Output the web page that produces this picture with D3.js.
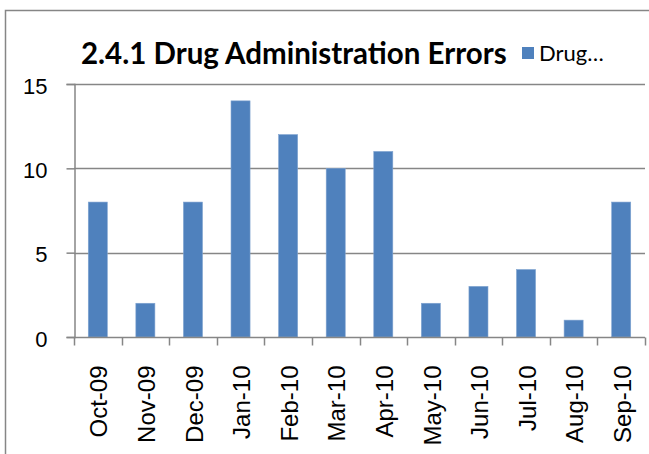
<!DOCTYPE html>
<html>
<head>
<meta charset="utf-8">
<script src="https://cdn.jsdelivr.net/npm/d3@7"></script>
<style>
  body { margin: 0; background: #fff; }
  svg text { font-family: Lato, "Liberation Sans", sans-serif; fill: #000; }
  svg .axis-label { font-family: "Liberation Sans", Arial, sans-serif; }
</style>
</head>
<body>
<svg id="chart" width="649" height="454"></svg>
<script>
// chart data
var months = ["Oct-09", "Nov-09", "Dec-09", "Jan-10", "Feb-10", "Mar-10",
              "Apr-10", "May-10", "Jun-10", "Jul-10", "Aug-10", "Sep-10"];
var errors = [8, 2, 8, 14, 12, 10, 11, 2, 3, 4, 1, 8];
var yTicks = [0, 5, 10, 15];
var titleText = "2.4.1 Drug Administration Errors";
var legendText = "Drug\u2026";

var svg = d3.select("#chart");
var grey = "#868686";

//plot area
var plot = {left: 74, right: 645, top: 84, bottom: 337};

var x = d3.scaleBand()
  .domain(months)
  .range([plot.left, plot.right])
  .paddingInner(0.6)
  .paddingOuter(0.3);

var xEdge = d3.scaleBand()
  .domain(months)
  .range([plot.left, plot.right]);

var y = d3.scaleLinear()
  .domain([0, 15])
  .range([plot.bottom, plot.top]);

//outer chart border, runs off the right and bottom edge
svg.append("rect")
  .attr("x", 5.5)
  .attr("y", 10.5)
  .attr("width", 700)
  .attr("height", 500)
  .style("fill", "none")
  .style("stroke", grey)
  .style("stroke-width", 1.5);

//gridlines
svg.append("g")
  .selectAll("line")
  .data(yTicks.filter(function (d) { return d > 0; }))
  .join("line")
  .attr("x1", plot.left)
  .attr("x2", plot.right)
  .attr("y1", function (d) { return Math.round(y(d)) + 0.5; })
  .attr("y2", function (d) { return Math.round(y(d)) + 0.5; })
  .style("stroke", grey)
  .style("stroke-width", 1.5);

//bars
svg.append("g")
  .selectAll("rect")
  .data(errors)
  .join("rect")
  .attr("x", function (d, i) { return x(months[i]); })
  .attr("y", function (d) { return y(d); })
  .attr("width", x.bandwidth())
  .attr("height", function (d) { return y(0) - y(d); })
  .style("fill", "#4f81bd")
  .style("stroke", "#7fa3d0")
  .style("stroke-width", 0.6);

//y axis
var yAxis = svg.append("g")
  .attr("transform", "translate(" + (plot.left + 0.5) + ",0)")
  .call(d3.axisLeft(y).tickValues(yTicks).tickSize(8).tickPadding(19));
yAxis.select(".domain").style("stroke", grey).style("stroke-width", 1.5);
yAxis.selectAll(".tick line").style("stroke", grey).style("stroke-width", 1.5);
yAxis.selectAll(".tick text")
  .attr("class", "axis-label")
  .style("font-size", "22px")
  .attr("dy", "0.42em");

//x axis with ticks on category edges
var xAxisG = svg.append("g")
  .attr("transform", "translate(0," + (Math.round(plot.bottom) + 0.5) + ")");
xAxisG.append("line")
  .attr("x1", plot.left)
  .attr("x2", plot.right)
  .style("stroke", grey)
  .style("stroke-width", 1.5);
xAxisG.selectAll("line.edge")
  .data(months.concat(["end"]))
  .join("line")
  .attr("class", "edge")
  .attr("x1", function (d, i) { return Math.round(plot.left + i * xEdge.bandwidth()) + 0.5; })
  .attr("x2", function (d, i) { return Math.round(plot.left + i * xEdge.bandwidth()) + 0.5; })
  .attr("y1", 0)
  .attr("y2", 8)
  .style("stroke", grey)
  .style("stroke-width", 1.5);

//rotated month labels
xAxisG.selectAll("text")
  .data(months)
  .join("text")
  .attr("class", "axis-label")
  .attr("transform", function (d) {
    return "translate(" + (x(d) + x.bandwidth() / 2 + 1) + ",28) rotate(-90)";
  })
  .attr("text-anchor", "end")
  .attr("dy", "0.36em")
  .style("font-size", "24px")
  .text(function (d) { return d; });

//title
svg.append("text")
  .attr("x", 81)
  .attr("y", 64)
  .style("font-size", "29.5px")
  .style("font-weight", "bold")
  .text(titleText);

//legend
svg.append("rect")
  .attr("x", 522)
  .attr("y", 47)
  .attr("width", 12)
  .attr("height", 12)
  .style("fill", "#4f81bd");
svg.append("text")
  .attr("x", 539)
  .attr("y", 61)
  .style("font-size", "22px")
  .text(legendText);
</script>
</body>
</html>
